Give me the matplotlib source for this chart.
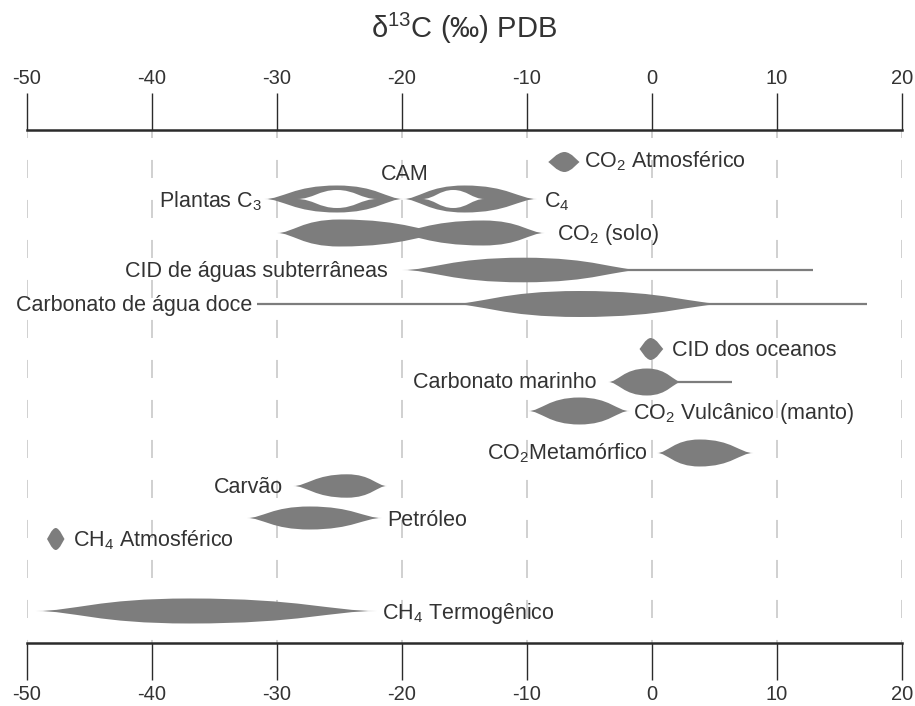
# delta 13C ranges of carbon reservoirs (spindle diagram)

import matplotlib
matplotlib.use('Agg')
import matplotlib.pyplot as plt
from matplotlib.path import Path
from matplotlib.patches import PathPatch

plt.rcParams['font.family'] = ['Liberation Sans', 'DejaVu Sans']
plt.rcParams['mathtext.fontset'] = 'custom'
plt.rcParams['mathtext.rm'] = 'Liberation Sans'
plt.rcParams['mathtext.it'] = 'Liberation Sans:italic'
plt.rcParams['mathtext.bf'] = 'Liberation Sans:bold'
plt.rcParams['lines.scale_dashes'] = False

################################################################
# data (per mil PDB)

TICKS = [-50, -40, -30, -20, -10, 0, 10, 20]
TICK_LABELS = ['-50', '-40', '-30', '-20', '-10', '0', '10', '20']

# one spindle per entry: row index, left tip, widest point, right tip
BODY_ROW   = [0, 1, 1, 2, 2, 3, 4, 5, 6, 7, 8, 9, 10, 11, 12]
BODY_LEFT  = [-8.3, -31.0, -19.9, -30.0, -21.0, -20.0, -16.2, -1.0, -3.5, -9.9, 0.4, -28.7, -32.4, -48.4, -49.3]
BODY_PEAK  = [-7.0, -25.2, -15.0, -25.0, -13.5, -10.3, -5.8, -0.1, -0.4, -5.8, 3.8, -24.4, -27.4, -47.7, -37.0]
BODY_RIGHT = [-5.8, -19.9, -9.2, -16.0, -8.6, -0.7, 6.0, 0.9, 2.4, -1.8, 8.1, -21.2, -21.6, -47.0, -22.0]

# open centres of the C3 / C4 plant spindles
HOLE_LEFT  = [-28.4, -18.4]
HOLE_PEAK  = [-25.2, -15.9]
HOLE_RIGHT = [-22.0, -13.4]

# thin whiskers
TAIL_ROW  = [3, 4, 6]
TAIL_FROM = [-10.3, -31.6, -0.4]
TAIL_TO   = [12.9, 17.2, 6.4]

LABELS = ['CO$_2$ Atmosférico', 'Plantas C$_3$', 'CAM', 'C$_4$', 'CO$_2$ (solo)',
          'CID de águas subterrâneas', 'Carbonato de água doce', 'CID dos oceanos',
          'Carbonato marinho', 'CO$_2$ Vulcânico (manto)', 'CO$_2$Metamórfico',
          'Carvão', 'Petróleo', 'CH$_4$ Atmosférico', 'CH$_4$ Termogênico']

################################################################
# layout (rows measured in pixels from the top of the figure)

ROW_Y = [162, 199, 233, 270, 304, 349, 382, 411, 453, 486, 518, 539, 611]
BODY_H = [10, 13.5, 13.5, 13.5, 12.5, 12.3, 13, 11, 13.5, 13.5, 13.5, 11.7, 11.5, 11, 12.5]
DIAMONDS = [0, 5, 11]
HOLE_H = 9.0
LABEL_POS = [(-5.4, 160, 'left'), (-31.2, 200, 'right'), (-19.8, 172, 'center'),
             (-8.6, 200, 'left'), (-7.6, 232, 'left'), (-21.1, 269, 'right'),
             (-32.0, 303, 'right'), (1.6, 348, 'left'), (-4.4, 380, 'right'),
             (-1.5, 411, 'left'), (-0.3, 452, 'right'), (-29.5, 485, 'right'),
             (-21.2, 518, 'left'), (-46.3, 539, 'left'), (-21.6, 611, 'left')]

GREY = '#7d7d7d'
INK = '#333333'


def spindle(ax, left, peak, right, y, h, color, a=0.25, b=0.6, z=2):
  wl = peak - left
  wr = right - peak
  verts = [(left, y),
           (left + a*wl, y), (peak - b*wl, y - h), (peak, y - h),
           (peak + b*wr, y - h), (right - a*wr, y), (right, y),
           (right - a*wr, y), (peak + b*wr, y + h), (peak, y + h),
           (peak - b*wl, y + h), (left + a*wl, y), (left, y),
           (left, y)]
  codes = [Path.MOVETO] + [Path.CURVE4]*12 + [Path.CLOSEPOLY]
  ax.add_patch(PathPatch(Path(verts, codes), facecolor=color,
                         edgecolor='none', zorder=z))


if __name__ == '__main__':
  fig = plt.figure(figsize=(9.15, 7.06), dpi=100)
  ax = fig.add_axes([27/915, 63/706, 875/915, 513/706])
  ax.set_xlim(-50, 20)
  ax.set_ylim(643, 130)

  for s in ['left', 'right']:
    ax.spines[s].set_visible(False)
  for s in ['top', 'bottom']:
    ax.spines[s].set_linewidth(1.8)
    ax.spines[s].set_color('#2b2b2b')

  ax.set_xticks(TICKS)
  ax.set_xticklabels(TICK_LABELS)
  ax.set_yticks([])
  ax.xaxis.set_ticks_position('both')
  ax.tick_params(axis='x', direction='out', length=26.6, width=1.0,
                 color='#2b2b2b', pad=3.5, labelsize=14.5, labelcolor=INK,
                 labeltop=True, labelbottom=True)

  # dashed guides
  ax.vlines(TICKS, 0, 1, transform=ax.get_xaxis_transform(), colors='#c8c8c8',
            linewidth=1.2, linestyles=[(10.8, (13.0, 15.8))], zorder=0.5)

  for i in range(len(BODY_ROW)):
    blunt = BODY_ROW[i] in DIAMONDS
    spindle(ax, BODY_LEFT[i], BODY_PEAK[i], BODY_RIGHT[i], ROW_Y[BODY_ROW[i]],
            BODY_H[i], GREY, a=0.05 if blunt else 0.25, b=0.45 if blunt else 0.6)

  for i in range(len(HOLE_LEFT)):
    spindle(ax, HOLE_LEFT[i], HOLE_PEAK[i], HOLE_RIGHT[i], ROW_Y[1], HOLE_H,
            'white', a=0.4, b=0.45, z=2.5)

  for i in range(len(TAIL_ROW)):
    ax.hlines(ROW_Y[TAIL_ROW[i]], TAIL_FROM[i], TAIL_TO[i], colors=GREY,
              linewidth=1.6, zorder=1.8)

  for txt, (x, y, ha) in zip(LABELS, LABEL_POS):
    ax.text(x, y + 7.5, txt, ha=ha, va='baseline', fontsize=15.5, color=INK,
            zorder=3, clip_on=False)

  fig.text((27 + 875/2)/915, 1 - 38/706, 'δ$^{13}$C (‰) PDB', ha='center',
           va='baseline', fontsize=21, color=INK)

  fig.savefig('out.png', dpi=100)
